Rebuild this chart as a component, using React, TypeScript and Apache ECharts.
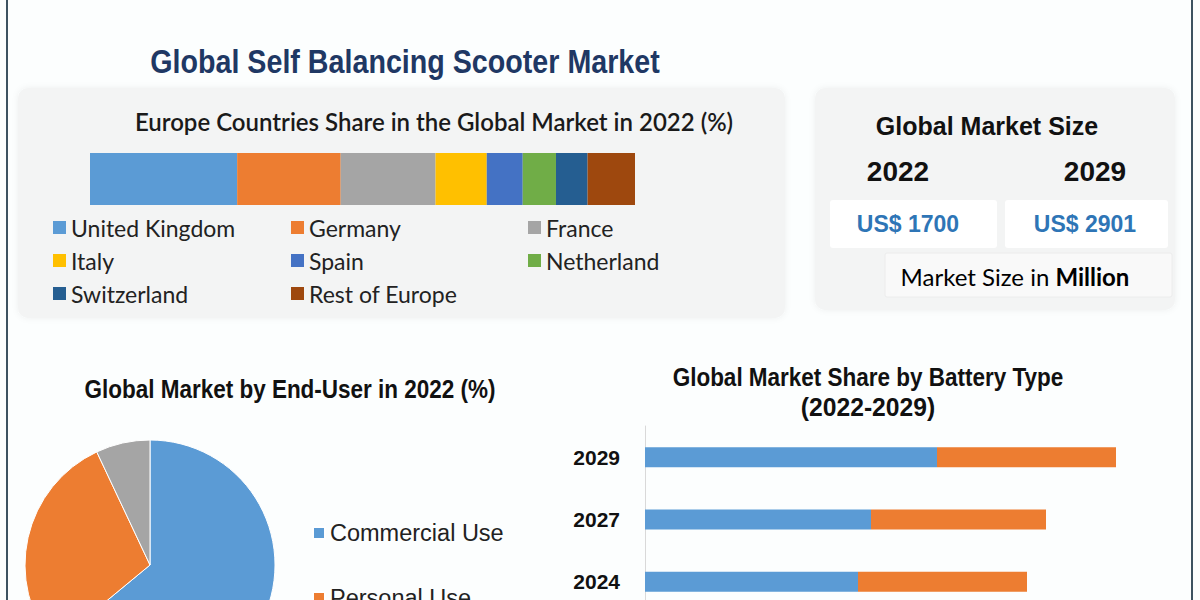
import React, { useEffect, useRef } from "react";
import * as echarts from "echarts";

// Europe countries share in 2022 (%)
const countries = ["United Kingdom", "Germany", "France", "Italy", "Spain", "Netherland", "Switzerland", "Rest of Europe"];
const countryShares = [27, 19, 17.4, 9.4, 6.6, 6.1, 5.8, 8.8];
const countryColors = ["#5b9bd5", "#ed7d31", "#a5a5a5", "#ffc000", "#4472c4", "#70ad47", "#255e91", "#9e480e"];

// Global market size (US$ Million)
const sizeYears = ["2022", "2029"];
const sizeValues = ["US$ 1700", "US$ 2901"];

// End-user share 2022 (%)
const endUsers = ["Commercial Use", "Personal Use", "Others"];
const endUserShares = [64, 29, 7];
const endUserColors = ["#5b9bd5", "#ed7d31", "#a5a5a5"];

// Battery type share by year
const batteryYears = ["2029", "2027", "2024"];
const batteryTypes = ["Lithium-ion", "Lead Acid"];
const batteryA = [58.4, 45.2, 42.6];
const batteryB = [35.8, 35.0, 33.8];
const batteryColors = ["#5b9bd5", "#ed7d31"];

const ARIAL = "'Liberation Sans', Arial, sans-serif";
const CAL = "Lato, 'Open Sans', sans-serif";

export default function App() {
  const ref = useRef<HTMLDivElement>(null);
  useEffect(() => {
    if (!ref.current) return;
    const chart = echarts.init(ref.current, null, { renderer: "svg" });

    const europeSeries = countries.map((name, i) => ({
      name,
      type: "bar",
      stack: "eu",
      xAxisIndex: 0,
      yAxisIndex: 0,
      barWidth: 52,
      data: [countryShares[i]],
      itemStyle: { color: countryColors[i] },
      silent: true,
    }));

    const batterySeries = batteryTypes.map((name, i) => ({
      name,
      type: "bar",
      stack: "bat",
      xAxisIndex: 1,
      yAxisIndex: 1,
      barWidth: 20,
      data: i === 0 ? batteryA : batteryB,
      itemStyle: { color: batteryColors[i] },
      silent: true,
    }));

    const legendText = { fontFamily: CAL, fontSize: 23, color: "#222" };
    const euLegend = (data: string[], left: number) => ({
      data,
      left,
      top: 211,
      height: 120,
      orient: "vertical",
      icon: "rect",
      itemWidth: 13,
      itemHeight: 13,
      itemGap: 10,
      textStyle: legendText,
      selectedMode: false,
    });

    const option: any = {
      animation: false,
      backgroundColor: "#fcfefe",
      grid: [
        { left: 90, top: 153, width: 545, height: 52, outerBoundsMode: "none" },
        { left: 645, top: 426, width: 500, height: 187, outerBoundsMode: "none" },
      ],
      xAxis: [
        { type: "value", gridIndex: 0, min: 0, max: 100, show: false },
        { type: "value", gridIndex: 1, min: 0, max: 100, show: false },
      ],
      yAxis: [
        { type: "category", gridIndex: 0, data: ["2022"], show: false },
        {
          type: "category",
          gridIndex: 1,
          data: batteryYears,
          inverse: true,
          axisLine: { show: true, lineStyle: { color: "#d9d9d9", width: 1 } },
          axisTick: { show: false },
          axisLabel: { fontFamily: ARIAL, fontWeight: "bold", fontSize: 21, color: "#111", margin: 25 },
        },
      ],
      legend: [
        euLegend([countries[0], countries[3], countries[6]], 48),
        euLegend([countries[1], countries[4], countries[7]], 286),
        euLegend([countries[2], countries[5]], 523),
        {
          data: endUsers,
          left: 307,
          top: 516,
          height: 250,
          orient: "vertical",
          icon: "rect",
          itemWidth: 12,
          itemHeight: 12,
          itemGap: 41,
          textStyle: { fontFamily: ARIAL, fontSize: 23.5, color: "#222" },
          selectedMode: false,
        },
      ],
      series: [
        ...europeSeries,
        ...batterySeries,
        {
          name: "End-User",
          type: "pie",
          center: [150, 565],
          radius: 125,
          startAngle: 90,
          clockwise: true,
          label: { show: false },
          labelLine: { show: false },
          silent: true,
          itemStyle: { borderColor: "#ffffff", borderWidth: 1 },
          data: endUsers.map((name, i) => ({ name, value: endUserShares[i], itemStyle: { color: endUserColors[i] } })),
        },
      ],
      graphic: [
        { type: "line", z: 10, shape: { x1: 7, y1: 0, x2: 7, y2: 600 }, style: { stroke: "#3d5361", lineWidth: 2 } },
        { type: "line", z: 10, shape: { x1: 1192, y1: 0, x2: 1192, y2: 600 }, style: { stroke: "#3d5361", lineWidth: 2 } },
        {
          type: "rect", z: -5,
          shape: { x: 18, y: 88, width: 767, height: 230, r: 10 },
          style: { fill: "#f3f4f4", shadowBlur: 6, shadowColor: "rgba(0,0,0,0.06)" },
        },
        {
          type: "rect", z: -5,
          shape: { x: 815, y: 88, width: 360, height: 222, r: 10 },
          style: { fill: "#f3f4f4", shadowBlur: 6, shadowColor: "rgba(0,0,0,0.06)" },
        },
        { type: "rect", z: -4, shape: { x: 830, y: 200, width: 167, height: 48, r: 3 }, style: { fill: "#ffffff" } },
        { type: "rect", z: -4, shape: { x: 1005, y: 200, width: 163, height: 48, r: 3 }, style: { fill: "#ffffff" } },
        { type: "rect", z: -4, shape: { x: 885, y: 253, width: 287, height: 44, r: 2 }, style: { fill: "#f9f9f9", stroke: "#ececec", lineWidth: 1 } },
        {
          type: "text", x: 405, y: 62, scaleX: 0.843,
          style: { text: "Global Self Balancing Scooter Market", fontFamily: ARIAL, fontWeight: "bold", fontSize: 34, fill: "#1f3864", textAlign: "center", textVerticalAlign: "middle" },
        },
        {
          type: "text", x: 434, y: 121,
          style: { text: "Europe Countries Share in the Global Market in 2022 (%)", fontFamily: CAL, fontWeight: 600, fontSize: 24, fill: "#1a1a1a", textAlign: "center", textVerticalAlign: "middle" },
        },
        {
          type: "text", x: 987, y: 126,
          style: { text: "Global Market Size", fontFamily: ARIAL, fontWeight: "bold", fontSize: 25, fill: "#111", textAlign: "center", textVerticalAlign: "middle" },
        },
        {
          type: "text", x: 898, y: 171,
          style: { text: sizeYears[0], fontFamily: ARIAL, fontWeight: "bold", fontSize: 28, fill: "#111", textAlign: "center", textVerticalAlign: "middle" },
        },
        {
          type: "text", x: 1095, y: 171,
          style: { text: sizeYears[1], fontFamily: ARIAL, fontWeight: "bold", fontSize: 28, fill: "#111", textAlign: "center", textVerticalAlign: "middle" },
        },
        {
          type: "text", x: 908, y: 224,
          style: { text: sizeValues[0], fontFamily: ARIAL, fontWeight: "bold", fontSize: 23, fill: "#2e75b6", textAlign: "center", textVerticalAlign: "middle" },
        },
        {
          type: "text", x: 1085, y: 224,
          style: { text: sizeValues[1], fontFamily: ARIAL, fontWeight: "bold", fontSize: 23, fill: "#2e75b6", textAlign: "center", textVerticalAlign: "middle" },
        },
        {
          type: "text", x: 1015, y: 276,
          style: {
            text: "{a|Market Size in }{b|Million}",
            textAlign: "center", textVerticalAlign: "middle",
            rich: {
              a: { fontFamily: CAL, fontSize: 24, color: "#222" },
              b: { fontFamily: CAL, fontSize: 24, fontWeight: "bold", color: "#111" },
            },
          },
        },
        {
          type: "text", x: 290, y: 389, scaleX: 0.9,
          style: { text: "Global Market by End-User in 2022 (%)", fontFamily: ARIAL, fontWeight: "bold", fontSize: 25, fill: "#111", textAlign: "center", textVerticalAlign: "middle" },
        },
        {
          type: "text", x: 868, y: 377, scaleX: 0.9,
          style: { text: "Global Market Share by Battery Type", fontFamily: ARIAL, fontWeight: "bold", fontSize: 25, fill: "#111", textAlign: "center", textVerticalAlign: "middle" },
        },
        {
          type: "text", x: 868, y: 407, scaleX: 0.95,
          style: { text: "(2022-2029)", fontFamily: ARIAL, fontWeight: "bold", fontSize: 26, fill: "#111", textAlign: "center", textVerticalAlign: "middle" },
        },
      ],
    };
    chart.setOption(option);
    return () => chart.dispose();
  }, []);
  return <div ref={ref} style={{ position: "fixed", left: 0, top: 0, width: 1200, height: 600 }} />;
}
